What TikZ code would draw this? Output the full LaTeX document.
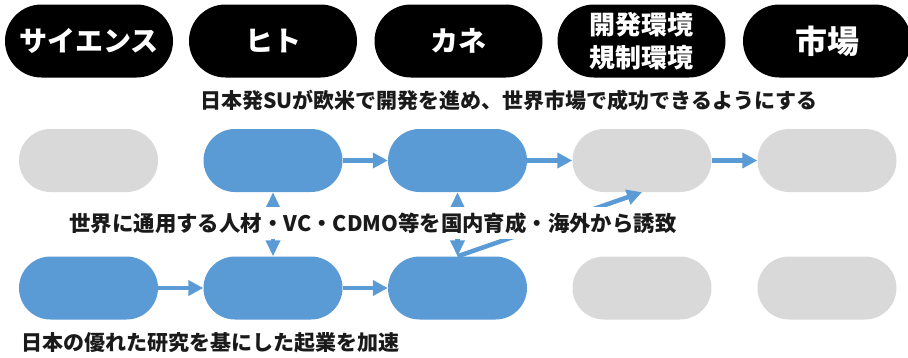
\documentclass[tikz,border=0pt]{standalone}
\usepackage{fontspec}
\setmainfont{Noto Sans CJK JP}
\usetikzlibrary{shapes.misc,arrows.meta}
\definecolor{pblue}{HTML}{5B9BD5}
\definecolor{pgray}{HTML}{D9D9D9}
\definecolor{ink}{HTML}{1A1A1A}
\tikzset{
  head/.style={rounded rectangle,fill=black,text=white,minimum width=168pt,minimum height=73pt,inner sep=0pt,font=\bfseries\fontsize{28pt}{33pt}\selectfont,align=center},
  bpill/.style={rounded rectangle,fill=pblue,minimum width=139pt,minimum height=63pt,inner sep=0pt},
  gpill/.style={rounded rectangle,fill=pgray,minimum width=139pt,minimum height=63pt,inner sep=0pt},
  lbl/.style={text=ink,font=\bfseries\fontsize{21pt}{25pt}\selectfont,inner sep=0pt},
  conn/.style={draw=pblue,line width=4.5pt,-{Triangle[length=15pt,width=15pt]}},
  dconn/.style={draw=pblue,line width=4.5pt,{Triangle[length=16pt,width=14pt]}-{Triangle[length=16pt,width=14pt]}}
}
\begin{document}
\begin{tikzpicture}[x=1pt,y=-1pt]
\useasboundingbox (0,0) rectangle (908,357);
\begin{scope}
\clip (0,0) rectangle (908,357);
% headers
\node[head] (h1) at (89,41) {サイエンス};
\node[head] (h2) at (273,41) {ヒト};
\node[head] (h3) at (458.5,41) {カネ};
\node[head,font=\bfseries\fontsize{26pt}{33pt}\selectfont] (h4) at (641.5,41) {開発環境\\規制環境};
\node[head,font=\bfseries\fontsize{32pt}{36pt}\selectfont] (h5) at (827,41) {市場};
\end{scope}
\node[lbl] (sub) at (509,100) {日本発SUが欧米で開発を進め、世界市場で成功できるようにする};
% row 1
\node[gpill] (a1) at (88.5,160.5) {};
\node[bpill] (a2) at (273,160.5) {};
\node[bpill] (a3) at (457.5,160.5) {};
\node[gpill] (a4) at (642,160.5) {};
\node[gpill] (a5) at (827,160.5) {};
% row 2
\node[bpill] (b1) at (88.5,288) {};
\node[bpill] (b2) at (273,288) {};
\node[bpill] (b3) at (457.5,288) {};
\node[gpill] (b4) at (642,288) {};
\node[gpill] (b5) at (827,288) {};
% connectors
\draw[conn] (a2.east) -- (a3.west);
\draw[conn] (a3.east) -- (a4.west);
\draw[conn] (a4.east) -- (a5.west);
\draw[conn] (b1.east) -- (b2.west);
\draw[conn] (b2.east) -- (b3.west);
\draw[dconn] (a2.south) -- (b2.north);
\draw[dconn] (a3.south) -- (b3.north);
\draw[conn] (b3.north) -- (a4.south);
% middle label with white background
\node[lbl,fill=white,inner xsep=4pt,inner ysep=5pt,font=\bfseries\fontsize{21.4pt}{25pt}\selectfont] (mid) at (373,223) {世界に通用する人材・VC・CDMO等を国内育成・海外から誘致};
\node[lbl,anchor=west] (bot) at (21,343) {日本の優れた研究を基にした起業を加速};
\end{tikzpicture}
\end{document}
